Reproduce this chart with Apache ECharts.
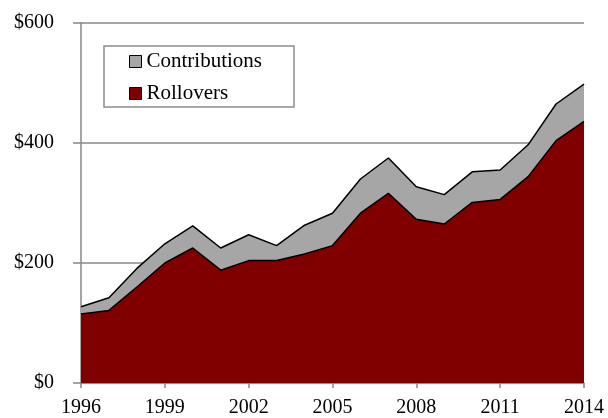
<!DOCTYPE html>
<html>
<head>
<meta charset="utf-8">
<script src="https://cdn.jsdelivr.net/npm/echarts@6/dist/echarts.min.js"></script>
<style>
  html, body { margin: 0; padding: 0; background: #fff; }
  #chart { width: 608px; height: 418px; }
</style>
</head>
<body>
<div id="chart"></div>
<script>
const years = ['1996', '1997', '1998', '1999', '2000', '2001', '2002', '2003', '2004', '2005',
  '2006', '2007', '2008', '2009', '2010', '2011', '2012', '2013', '2014'];
const rollovers = [115, 121, 160, 200, 225, 188, 204, 204, 215, 229,
  283, 316, 273, 265, 301, 306, 344, 404, 436];
const contributions = [12, 21, 31, 32, 37, 37, 43, 25, 48, 54,
  57, 59, 54, 49, 51, 49, 53, 61, 62];

const serif = '"Liberation Serif", "DejaVu Serif", serif';
const axisGray = '#878787';

const chart = echarts.init(document.getElementById('chart'));
chart.setOption({
  animation: false,
  grid: { left: 81, right: 24, top: 23, bottom: 35 },
  legend: {
    orient: 'vertical',
    left: 104,
    top: 46,
    padding: [5, 32, 3, 25],
    borderColor: '#8c8c8c',
    borderWidth: 1.5,
    itemWidth: 12,
    itemHeight: 12,
    itemGap: 11,
    icon: 'rect',
    textStyle: { fontFamily: serif, fontSize: 21, color: '#000' },
    data: [
      { name: 'Contributions', itemStyle: { color: '#a6a6a6', borderColor: '#000', borderWidth: 1 } },
      { name: 'Rollovers', itemStyle: { color: '#800000', borderColor: '#000', borderWidth: 1 } }
    ]
  },
  xAxis: {
    type: 'category',
    data: years,
    boundaryGap: false,
    axisLine: { lineStyle: { color: axisGray, width: 1.5 } },
    axisTick: { interval: 2, length: 5, lineStyle: { color: axisGray, width: 1.5 } },
    axisLabel: { interval: 2, margin: 15, fontFamily: serif, fontSize: 20, color: '#000' },
    splitLine: { show: false }
  },
  yAxis: {
    type: 'value',
    min: 0,
    max: 600,
    interval: 200,
    axisLine: { show: true, lineStyle: { color: axisGray, width: 1.5 } },
    axisTick: { show: true, length: 8, lineStyle: { color: axisGray, width: 1.5 } },
    axisLabel: {
      margin: 27,
      fontFamily: serif,
      fontSize: 20,
      color: '#000',
      formatter: v => '$' + v
    },
    splitLine: { lineStyle: { color: axisGray, width: 1.5 } }
  },
  series: [
    {
      name: 'Rollovers',
      type: 'line',
      stack: 'total',
      data: rollovers,
      showSymbol: false,
      color: '#800000',
      lineStyle: { color: '#000', width: 1.5 },
      areaStyle: { color: '#800000', opacity: 1 }
    },
    {
      name: 'Contributions',
      type: 'line',
      stack: 'total',
      data: contributions,
      showSymbol: false,
      color: '#a6a6a6',
      lineStyle: { color: '#000', width: 1.5 },
      areaStyle: { color: '#a6a6a6', opacity: 1 }
    }
  ]
});
</script>
</body>
</html>
